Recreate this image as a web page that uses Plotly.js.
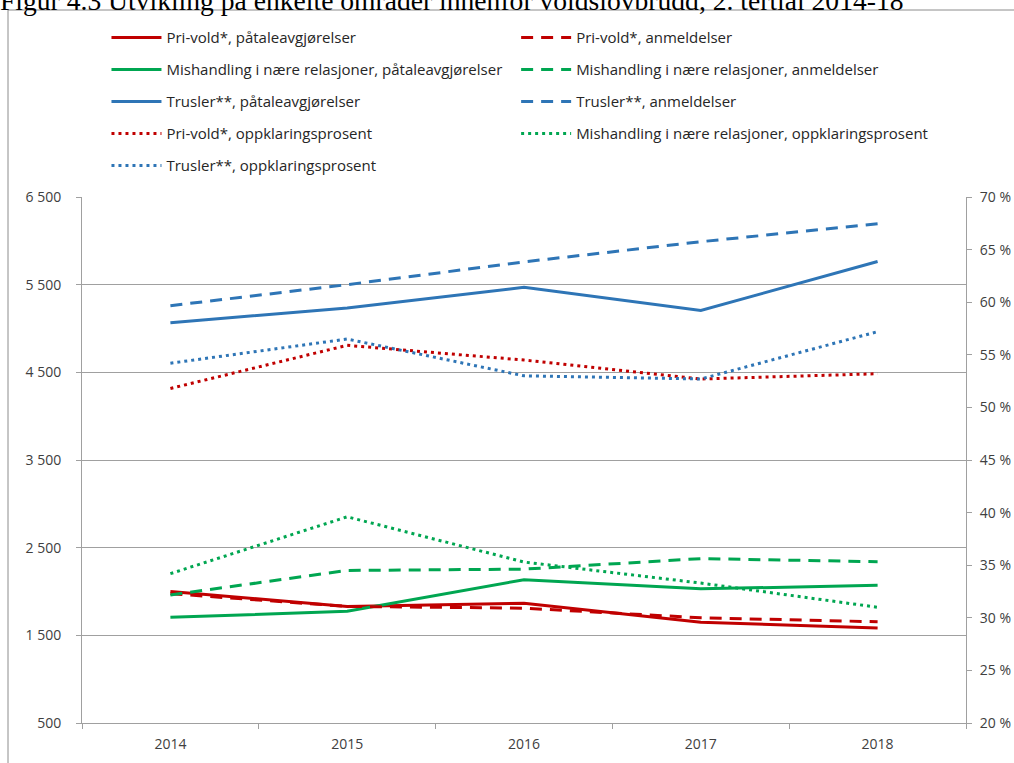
<!DOCTYPE html>
<html>
<head>
<meta charset="utf-8">
<script src="https://cdn.plot.ly/plotly-3.0.1.min.js"></script>
<style>html,body{margin:0;padding:0;background:#fff;}#chart{width:1014px;height:763px;}</style>
</head>
<body>
<div id="chart"></div>
<script>
// ---- data ----
var years = ['2014', '2015', '2016', '2017', '2018'];
var priPatale = [2000, 1830, 1865, 1650, 1585];
var priAnm = [1975, 1830, 1810, 1700, 1655];
var misPatale = [1705, 1775, 2135, 2030, 2070];
var misAnm = [1960, 2240, 2255, 2375, 2340];
var truPatale = [5065, 5235, 5470, 5205, 5765];
var truAnm = [5260, 5500, 5760, 5990, 6195];
var priOppk = [51.8, 55.9, 54.5, 52.7, 53.2];
var misOppk = [34.2, 39.6, 35.3, 33.3, 31.0];
var truOppk = [54.2, 56.5, 53.0, 52.7, 57.2];
var leftTicks = [500, 1500, 2500, 3500, 4500, 5500, 6500];
var titleText = 'Figur 4.3 Utvikling på enkelte områder innenfor voldslovbrudd, 2. tertial 2014-18';

var RED = '#C00000', GREEN = '#00A651', BLUE = '#2E75B6';
var DASH = '12px,8px', DOT = '3px,4px';

function tr(name, y, color, dash, axis, legend, idx) {
  return {
    x: years, y: y, name: name, type: 'scatter', mode: 'lines',
    line: {color: color, width: 3, dash: dash},
    yaxis: axis, legend: legend, legendgroup: 'g' + idx,
    hoverinfo: 'skip'
  };
}

var data = [
  tr('Pri-vold*, påtaleavgjørelser', priPatale, RED, 'solid', 'y', 'legend', 1),
  tr('Mishandling i nære relasjoner, påtaleavgjørelser', misPatale, GREEN, 'solid', 'y', 'legend', 2),
  tr('Trusler**, påtaleavgjørelser', truPatale, BLUE, 'solid', 'y', 'legend', 3),
  tr('Pri-vold*, oppklaringsprosent', priOppk, RED, DOT, 'y2', 'legend', 4),
  tr('Trusler**, oppklaringsprosent', truOppk, BLUE, DOT, 'y2', 'legend', 5),
  tr('Pri-vold*, anmeldelser', priAnm, RED, DASH, 'y', 'legend2', 6),
  tr('Mishandling i nære relasjoner, anmeldelser', misAnm, GREEN, DASH, 'y', 'legend2', 7),
  tr('Trusler**, anmeldelser', truAnm, BLUE, DASH, 'y', 'legend2', 8),
  tr('Mishandling i nære relasjoner, oppklaringsprosent', misOppk, GREEN, DOT, 'y2', 'legend2', 9)
];

var FONT = 'Open Sans, Noto Sans, sans-serif';
var TICKC = '#404040';
var GRID = '#A0A0A0';

var legendBase = {
  xref: 'container', yref: 'container', xanchor: 'left', yanchor: 'top',
  orientation: 'v', bgcolor: 'rgba(0,0,0,0)', borderwidth: 0,
  font: {family: FONT, size: 15, color: '#262626'},
  itemwidth: 50, tracegroupgap: 9.5, traceorder: 'grouped',
  itemclick: false, itemdoubleclick: false
};

var layout = {
  width: 1014, height: 763,
  margin: {l: 82, r: 48, t: 197, b: 40, pad: 0, autoexpand: false},
  paper_bgcolor: '#ffffff', plot_bgcolor: '#ffffff',
  separators: ', ',
  title: {
    text: titleText, x: 0, xref: 'container', xanchor: 'left',
    y: 1, yref: 'container', yanchor: 'middle', automargin: false,
    font: {family: 'Liberation Serif, DejaVu Serif, serif', size: 27.6, color: '#000'}
  },
  showlegend: true,
  legend: Object.assign({}, legendBase, {x: 0.105, y: 0.972}),
  legend2: Object.assign({}, legendBase, {x: 0.509, y: 0.972}),
  xaxis: {
    type: 'category', range: [-0.5, 4.5], showgrid: false, automargin: false,
    showline: true, linecolor: GRID, linewidth: 1,
    ticks: 'outside', tickson: 'boundaries', ticklen: 5, tickcolor: GRID,
    ticklabelstandoff: 8, tickangle: 0,
    tickfont: {family: FONT, size: 14, color: TICKC}, fixedrange: true
  },
  yaxis: {
    range: [500, 6500], tickvals: leftTicks, tickformat: ',.0f', separatethousands: true,
    showgrid: true, gridcolor: GRID, gridwidth: 1, zeroline: false, automargin: false,
    showline: true, linecolor: GRID, linewidth: 1,
    ticks: 'outside', ticklen: 5, tickcolor: GRID, ticklabelstandoff: 12,
    tickfont: {family: FONT, size: 14, color: TICKC}, fixedrange: true
  },
  yaxis2: {
    overlaying: 'y', side: 'right', range: [20, 70], dtick: 5, tick0: 20,
    ticksuffix: ' %', showgrid: false, zeroline: false, automargin: false,
    showline: true, linecolor: GRID, linewidth: 1,
    ticks: 'outside', ticklen: 5, tickcolor: GRID, ticklabelstandoff: 5,
    tickfont: {family: FONT, size: 14, color: TICKC}, fixedrange: true
  },
  shapes: [
    {type: 'line', xref: 'paper', yref: 'paper',
     x0: (8 - 82) / 884, x1: (8 - 82) / 884, y0: 1 + 187 / 526, y1: -0.2,
     line: {color: '#8C8C8C', width: 1}},
    {type: 'line', xref: 'paper', yref: 'paper',
     x0: (8 - 82) / 884, x1: 1.2, y0: 1 + 187 / 526, y1: 1 + 187 / 526,
     line: {color: '#8C8C8C', width: 1}}
  ]
};

Plotly.newPlot('chart', data, layout, {displayModeBar: false, staticPlot: true});
</script>
</body>
</html>
